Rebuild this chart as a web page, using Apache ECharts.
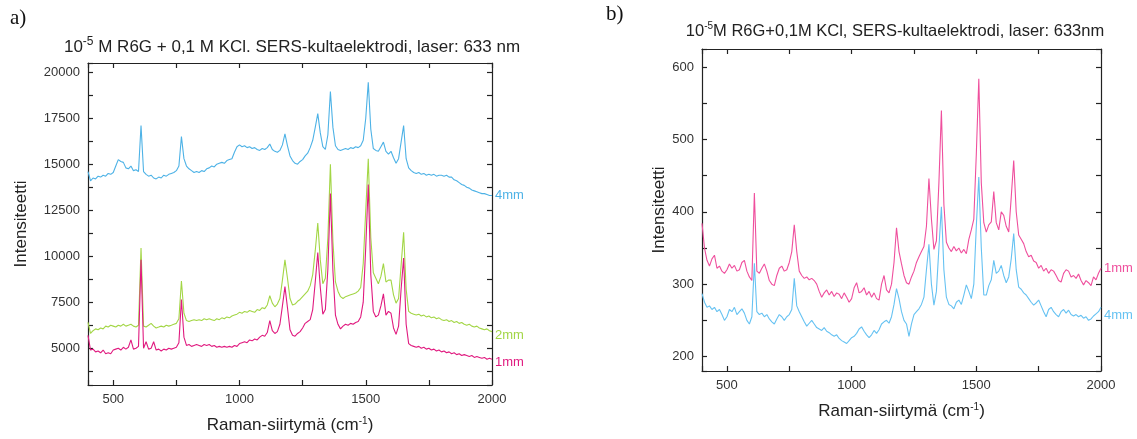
<!DOCTYPE html>
<html>
<head>
<meta charset="utf-8">
<script src="https://cdn.jsdelivr.net/npm/echarts@6/dist/echarts.min.js"></script>
<style>html,body{margin:0;padding:0;background:#fff}#c{width:1137px;height:439px}</style>
</head>
<body>
<div id="c"></div>
<script>
// Raman shift sampling (cm^-1): 400..2000, step 10
const shiftStart = 400;
const shiftStep = 10;

// Panel a) intensities
const a_4mm = [14600,14100,14250,14200,14350,14300,14400,14350,14500,14450,
14550,14900,15250,15150,15100,14800,14750,14900,14650,14700,
14600,17100,14600,14450,14350,14400,14250,14200,14300,14250,
14400,14350,14450,14500,14550,14650,14900,16500,15300,14900,
14750,14650,14550,14600,14550,14650,14600,14750,14800,14900,
14850,15000,15050,15100,15050,15200,15250,15300,15650,15950,
16050,15950,16000,15900,15950,15850,15900,15800,15750,15850,
15800,15900,16100,15800,15700,15650,15750,16050,16650,16000,
15450,15200,15050,15000,15150,15250,15450,15600,15900,16300,
17000,17750,16700,15950,15800,16600,18950,17000,16000,15800,
15750,15800,15850,15800,15900,15850,15950,15900,16000,16300,
17500,19450,16900,15850,15750,15700,15950,16200,15700,15550,
15700,15350,15050,15300,16200,17100,15300,14800,14650,14550,
14500,14550,14450,14500,14400,14450,14400,14450,14350,14400,
14400,14350,14400,14300,14300,14150,14100,14000,13900,13850,
13750,13700,13600,13550,13500,13450,13400,13400,13350,13300,13300];

const a_2mm = [6400,5800,5950,6050,6000,6100,6050,6200,6150,6250,
6200,6150,6250,6200,6300,6200,6250,6300,6200,6150,
6250,10450,6200,6150,6250,6350,6200,6100,6150,6200,
6150,6250,6200,6250,6300,6350,6600,8650,6900,6500,
6450,6500,6550,6500,6550,6500,6600,6550,6600,6550,
6500,6600,6550,6650,6600,6700,6650,6750,6800,6850,
6950,6900,7000,6950,7050,7000,6950,7100,7050,7200,
7150,7350,7850,7450,7250,7400,7700,8700,9800,8800,
7700,7350,7400,7550,7650,7800,7950,8100,8400,9000,
10300,11800,9800,8500,8800,11000,15000,10800,8600,8100,
7800,7700,7800,7850,7900,7950,8000,8100,8300,9600,
12500,15300,11000,9100,8800,8500,8900,9600,8600,8700,
8700,7900,7450,7700,9500,11300,8200,7000,6900,6850,
6800,6850,6750,6800,6700,6750,6650,6700,6600,6650,
6550,6500,6550,6450,6500,6400,6450,6350,6400,6300,
6250,6300,6200,6150,6200,6100,6050,6000,6050,5950,5900];

const a_1mm = [5700,4900,4950,4800,4850,4750,4900,4700,4750,4700,
4900,4950,5000,4900,5050,4950,5050,5450,4950,5000,
5100,9800,5000,5350,4950,5000,5350,4900,4950,4850,
4950,4900,5000,4950,5000,5050,5300,7650,5600,5150,
5200,5100,5150,5200,5150,5100,5200,5150,5200,5100,
5150,5050,5100,5050,5100,5050,5100,5050,5150,5100,
5250,5300,5350,5300,5450,5400,5500,5450,5600,5700,
5650,5850,6500,5950,5800,5900,6300,7300,8350,7200,
6000,5700,5650,5800,5900,6100,6350,6450,6550,7100,
8600,10200,8300,6850,7100,9300,13400,9200,6800,6300,
6050,6200,6300,6250,6350,6300,6400,6450,6700,7500,
10500,13900,9000,7000,6700,6800,7300,7950,6800,7000,
6900,6100,5750,6200,8200,9900,6300,5250,5150,5100,
5050,5100,5000,5050,4950,5000,4900,4950,4850,4900,
4800,4850,4750,4800,4700,4750,4650,4700,4600,4650,
4600,4550,4600,4500,4550,4500,4450,4500,4400,4450,4400];

// Panel b) intensities
const b_1mm = [384,350,333,325,335,340,322,325,318,315,
320,328,322,326,318,320,330,333,318,310,
305,426,318,315,322,328,318,305,300,298,
312,322,325,318,320,330,345,382,345,318,
312,308,310,306,308,305,300,290,282,288,
292,285,290,283,288,286,280,288,282,275,
280,295,302,288,290,295,285,290,282,288,
280,278,300,312,292,288,300,330,378,345,
328,312,302,300,310,318,330,338,345,352,
380,446,390,348,360,440,540,410,358,350,
345,352,346,350,343,348,342,362,375,390,
480,584,440,385,372,382,386,428,385,375,
400,395,380,372,420,471,400,368,362,356,
345,338,340,332,330,322,326,318,322,315,
320,318,312,305,303,315,320,318,310,312,
308,314,305,299,305,302,298,310,306,315,322];

const b_4mm = [287,275,268,270,265,268,262,265,258,250,
255,265,262,268,258,262,266,260,250,245,
255,329,262,258,260,255,258,252,248,245,
252,258,255,250,255,258,265,308,270,262,
255,248,242,246,250,245,240,238,236,240,
235,233,230,228,230,225,222,220,218,222,
226,228,232,238,241,235,230,226,230,236,
232,237,245,248,250,246,255,272,294,280,
262,250,245,228,245,258,262,266,272,282,
320,355,300,271,290,350,407,320,282,272,
270,266,275,278,272,285,299,290,280,300,
380,448,350,285,285,298,306,333,315,318,
326,312,302,310,335,370,320,296,293,288,
285,280,275,271,274,278,270,262,255,265,
268,262,258,255,262,265,260,264,258,256,
258,255,257,253,255,250,252,256,259,262,268];

// Axis tick labels
const xTicksLabeled = [500, 1000, 1500, 2000];
const yTicksA = [5000, 7500, 10000, 12500, 15000, 17500, 20000];
const yTicksB = [200, 300, 400, 500, 600];

function pairs(vals) {
  return vals.map((v, i) => [shiftStart + i * shiftStep, v]);
}

const FONT = "'Liberation Sans', Arial, sans-serif";
const axisLine = { show: true, lineStyle: { color: '#222', width: 1.2 } };
const tick = { show: true, inside: true, length: 5, lineStyle: { color: '#222', width: 1.2 } };
const lbl = (list) => ({
  show: true, color: '#333', fontSize: 13, fontFamily: FONT, margin: 8,
  formatter: (v) => (list.indexOf(v) >= 0 ? String(v) : '')
});

function xAxes(gi) {
  const base = { type: 'value', gridIndex: gi, min: 400, max: 2000, minInterval: 250, maxInterval: 250,
    splitLine: { show: false }, axisLine: axisLine, axisTick: tick };
  return [
    Object.assign({}, base, { position: 'bottom', axisLabel: lbl(xTicksLabeled),
      name: '{n|Raman-siirtymä (cm}{s|-1}{n|)}', nameLocation: 'middle', nameGap: 31,
      nameTextStyle: { rich: { n: { fontSize: 17, fontFamily: FONT, color: '#222' },
                               s: { fontSize: 10, fontFamily: FONT, color: '#222', verticalAlign: 'top', padding: [0,0,9,0] } } } }),
    Object.assign({}, base, { position: 'top', axisLabel: { show: false } })
  ];
}
function yAxes(gi, mn, mx, step, labels, gap) {
  const base = { type: 'value', gridIndex: gi, min: mn, max: mx, minInterval: step, maxInterval: step,
    splitLine: { show: false }, axisLine: axisLine, axisTick: tick };
  return [
    Object.assign({}, base, { position: 'left', axisLabel: lbl(labels),
      name: 'Intensiteetti', nameLocation: 'middle', nameGap: gap,
      nameTextStyle: { fontSize: 17, fontFamily: FONT, color: '#222' } }),
    Object.assign({}, base, { position: 'right', axisLabel: { show: false } })
  ];
}

function line(name, vals, color, xi, yi, off) {
  return {
    type: 'line', name: name, data: pairs(vals), xAxisIndex: xi, yAxisIndex: yi,
    showSymbol: false, symbol: 'none', silent: true, animation: false,
    lineStyle: { color: color, width: 1.1 }, itemStyle: { color: color },
    endLabel: { show: true, formatter: name, color: color, fontSize: 13, fontFamily: FONT, distance: 3, offset: off || [0, 0] }
  };
}

const chart = echarts.init(document.getElementById('c'), null, { renderer: 'canvas' });
chart.setOption({
  animation: false,
  backgroundColor: '#ffffff',
  grid: [
    { left: 88, top: 63, width: 404, height: 326 },
    { left: 702, top: 49, width: 399, height: 322 }
  ],
  xAxis: xAxes(0).concat(xAxes(1)),
  yAxis: yAxes(0, 3000, 20500, 1250, yTicksA, 58).concat(yAxes(1, 180, 625, 50, yTicksB, 34)),
  series: [
    line('4mm', a_4mm, '#4db2e6', 0, 0),
    line('2mm', a_2mm, '#a3d646', 0, 0, [0, 4]),
    line('1mm', a_1mm, '#e01a7f', 0, 0, [0, 3]),
    line('1mm', b_1mm, '#ef4f9d', 2, 2),
    line('4mm', b_4mm, '#66c2f2', 2, 2, [0, 8])
  ],
  graphic: [
    { type: 'text', left: 10, top: 8, style: { text: 'a)', font: "21px 'Liberation Serif', serif", fill: '#111' } },
    { type: 'text', left: 606, top: 4, style: { text: 'b)', font: "21px 'Liberation Serif', serif", fill: '#111' } },
    { type: 'text', x: 292, y: 47, style: {
        text: '{n|10}{s|-5}{n| M R6G + 0,1 M KCl. SERS-kultaelektrodi, laser: 633 nm}',
        align: 'center', verticalAlign: 'middle',
        rich: { n: { fontSize: 17, fontFamily: FONT, fill: '#222' },
                s: { fontSize: 12, fontFamily: FONT, fill: '#222', verticalAlign: 'top', padding: [0,0,10,0] } } } },
    { type: 'text', x: 895, y: 31, style: {
        text: '{n|10}{s|-5}{n|M R6G+0,1M KCl, SERS-kultaelektrodi, laser: 633nm}',
        align: 'center', verticalAlign: 'middle',
        rich: { n: { fontSize: 16.5, fontFamily: FONT, fill: '#222' },
                s: { fontSize: 10, fontFamily: FONT, fill: '#222', verticalAlign: 'top', padding: [0,0,9,0] } } } }
  ]
});
</script>
</body>
</html>
